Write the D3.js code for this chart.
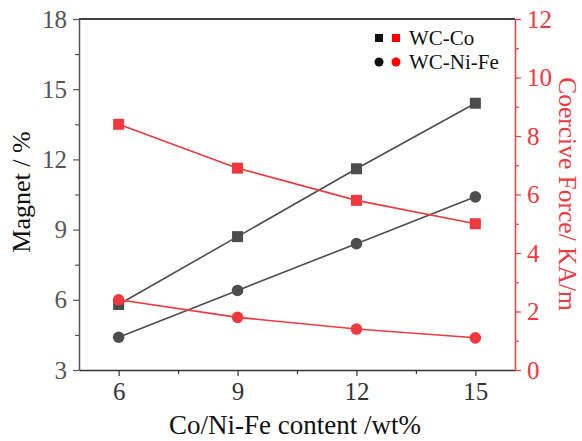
<!DOCTYPE html>
<html><head><meta charset="utf-8">
<script src="https://cdn.jsdelivr.net/npm/d3@7"></script>
<style>body{margin:0;background:#fff} svg text{font-family:'Liberation Serif','Times New Roman',Times,'DejaVu Serif',serif;}</style>
</head><body>
<svg id="c" width="582" height="441"></svg>
<script>
const content = [6, 9, 12, 15];
const magnetWCCo = [5.8, 8.7, 11.6, 14.4];
const magnetWCNiFe = [4.4, 6.4, 8.4, 10.4];
const coerciveWCCo = [8.4, 6.9, 5.8, 5.0];
const coerciveWCNiFe = [2.4, 1.8, 1.4, 1.1];
const xTicks = [6, 9, 12, 15];
const yLeftTicks = [3, 6, 9, 12, 15, 18];
const yRightTicks = [0, 2, 4, 6, 8, 10, 12];

const svg = d3.select('#c');
const L = 79, R = 515, T = 19, B = 370;
const gray = '#4d4d4d', red = '#f0383f';
const font = "'Liberation Serif','Times New Roman',Times,'DejaVu Serif',serif";

const x = d3.scaleLinear().domain([5, 16]).range([L, R]);
const yL = d3.scaleLinear().domain([3, 18]).range([B, T]);
const yR = d3.scaleLinear().domain([0, 12]).range([B, T]);

svg.append('line').attr('x1', L).attr('x2', R).attr('y1', T).attr('y2', T).attr('stroke', '#000').attr('stroke-width', 1.5);

function styleAxis(g, color, size) {
  g.attr('font-family', null);
  g.select('.domain').attr('stroke', color).attr('stroke-width', 1.5);
  g.selectAll('.tick line').attr('stroke', color).attr('stroke-width', 1.2);
  g.selectAll('text').attr('fill', color).attr('font-family', font).attr('font-size', size);
}

const gx = svg.append('g').attr('transform', `translate(0,${B})`)
  .call(d3.axisBottom(x).tickValues(xTicks).tickSize(6).tickSizeOuter(0).tickPadding(6));
styleAxis(gx, '#333', 25);
svg.append('g').attr('transform', `translate(0,${B})`)
  .call(d3.axisBottom(x).tickValues(xTicks.map(v => v + 1.5).filter(v => v < 16)).tickSize(4).tickFormat(''))
  .call(g => { g.select('.domain').remove(); g.selectAll('line').attr('stroke', '#333').attr('stroke-width', 1.2); });

const gl = svg.append('g').attr('transform', `translate(${L},0)`)
  .call(d3.axisLeft(yL).tickValues(yLeftTicks).tickSize(6).tickSizeOuter(0).tickPadding(6));
styleAxis(gl, '#555', 25);
svg.append('g').attr('transform', `translate(${L},0)`)
  .call(d3.axisLeft(yL).tickValues(yLeftTicks.slice(0, -1).map(v => v + 1.5)).tickSize(4).tickFormat(''))
  .call(g => { g.select('.domain').remove(); g.selectAll('line').attr('stroke', '#555').attr('stroke-width', 1.2); });

const gr = svg.append('g').attr('transform', `translate(${R},0)`)
  .call(d3.axisRight(yR).tickValues(yRightTicks).tickSize(6).tickSizeOuter(0).tickPadding(6));
styleAxis(gr, red, 25);
svg.append('g').attr('transform', `translate(${R},0)`)
  .call(d3.axisRight(yR).tickValues(yRightTicks.slice(0, -1).map(v => v + 1)).tickSize(4).tickFormat(''))
  .call(g => { g.select('.domain').remove(); g.selectAll('line').attr('stroke', red).attr('stroke-width', 1.2); });

svg.append('text').attr('x', 295).attr('y', 434).attr('text-anchor', 'middle')
  .attr('font-family', font).attr('font-size', 27).attr('fill', '#111').text('Co/Ni-Fe content /wt%');
svg.append('text').attr('transform', `translate(30,192) rotate(-90)`).attr('text-anchor', 'middle')
  .attr('font-family', font).attr('font-size', 26).attr('fill', '#111').text('Magnet / %');
svg.append('text').attr('transform', `translate(559,194) rotate(90)`).attr('text-anchor', 'middle')
  .attr('font-family', font).attr('font-size', 25.5).attr('fill', red).text('Coercive Force/ KA/m');

const line = (ys) => d3.line().x((d, i) => x(content[i])).y(d => ys(d));

function series(vals, ys, color, shape) {
  svg.append('path').datum(vals).attr('d', line(ys)).attr('fill', 'none').attr('stroke', color).attr('stroke-width', 1.6);
  const g = svg.append('g');
  vals.forEach((v, i) => {
    if (shape === 'sq') {
      g.append('rect').attr('x', x(content[i]) - 5.5).attr('y', ys(v) - 5.5).attr('width', 11).attr('height', 11).attr('fill', color);
    } else {
      g.append('circle').attr('cx', x(content[i])).attr('cy', ys(v)).attr('r', 5.8).attr('fill', color);
    }
  });
}
series(magnetWCCo, yL, gray, 'sq');
series(magnetWCNiFe, yL, gray, 'ci');
series(coerciveWCCo, yR, red, 'sq');
series(coerciveWCNiFe, yR, red, 'ci');

const leg = svg.append('g');
leg.append('rect').attr('x', 375).attr('y', 34).attr('width', 8).attr('height', 8).attr('fill', '#111');
leg.append('rect').attr('x', 392).attr('y', 34).attr('width', 8).attr('height', 8).attr('fill', '#f00');
leg.append('text').attr('x', 409).attr('y', 45).attr('font-family', font).attr('font-size', 21).attr('fill', '#111').text('WC-Co');
leg.append('circle').attr('cx', 379).attr('cy', 62).attr('r', 4.5).attr('fill', '#111');
leg.append('circle').attr('cx', 396).attr('cy', 62).attr('r', 4.5).attr('fill', '#f00');
leg.append('text').attr('x', 409).attr('y', 69).attr('font-family', font).attr('font-size', 21).attr('fill', '#111').text('WC-Ni-Fe');
</script>
</body></html>
